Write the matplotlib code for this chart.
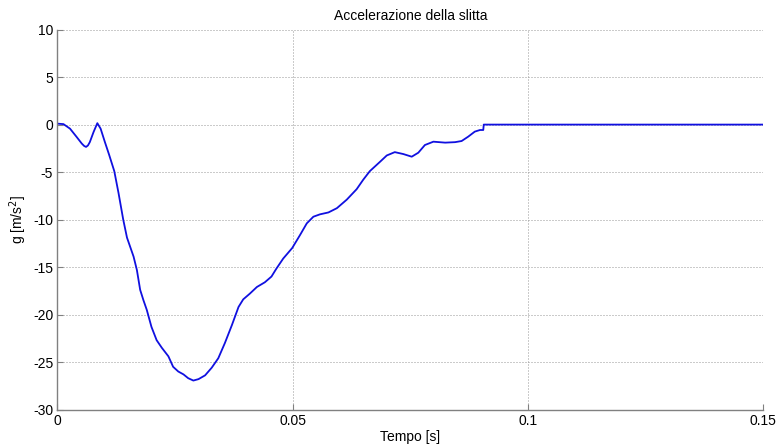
import numpy as np
import matplotlib.pyplot as plt

plt.rcParams['font.family'] = ['Liberation Sans', 'DejaVu Sans']
plt.rcParams['axes.unicode_minus'] = False

# accelerazione della slitta (tempo in s, accelerazione in m/s^2)
tempo = np.array([
    0.0000, 0.0013, 0.0027, 0.0041, 0.0052, 0.0057, 0.0061, 0.0065, 0.0069, 0.0077,
    0.0085, 0.0092, 0.0101, 0.0110, 0.0121, 0.0130, 0.0140, 0.0148, 0.0162, 0.0169,
    0.0176, 0.0183, 0.0190, 0.0200, 0.0211, 0.0222, 0.0236, 0.0246, 0.0257, 0.0268,
    0.0278, 0.0289, 0.0300, 0.0314, 0.0328, 0.0342, 0.0356, 0.0371, 0.0385, 0.0395,
    0.0409, 0.0424, 0.0441, 0.0455, 0.0465, 0.0480, 0.0499, 0.0516, 0.0530, 0.0544,
    0.0558, 0.0576, 0.0594, 0.0615, 0.0636, 0.0650, 0.0664, 0.0686, 0.0700, 0.0717,
    0.0735, 0.0753, 0.0767, 0.0781, 0.0799, 0.0824, 0.0845, 0.0859, 0.0873, 0.0887,
    0.0898, 0.0905, 0.0906, 0.1500])
acc = np.array([
    0.10, 0.05, -0.43, -1.30, -2.00, -2.25, -2.35, -2.20, -1.85, -0.78,
    0.15, -0.43, -1.83, -3.17, -4.90, -7.20, -10.0, -11.9, -13.9, -15.3,
    -17.4, -18.5, -19.5, -21.3, -22.7, -23.5, -24.4, -25.5, -26.0, -26.3,
    -26.7, -26.95, -26.8, -26.4, -25.6, -24.6, -23.0, -21.1, -19.2, -18.4,
    -17.8, -17.1, -16.6, -16.0, -15.2, -14.1, -13.0, -11.6, -10.4, -9.7,
    -9.45, -9.25, -8.8, -7.9, -6.8, -5.8, -4.9, -3.9, -3.25, -2.9,
    -3.1, -3.38, -2.96, -2.15, -1.8, -1.9, -1.85, -1.73, -1.27, -0.74,
    -0.57, -0.57, 0.0, 0.0])

xticks = [0, 0.05, 0.1, 0.15]
xticklabels = ['0', '0.05', '0.1', '0.15']
yticks = np.arange(-30, 11, 5)

fig = plt.figure(figsize=(7.8, 4.46), dpi=100)
ax = fig.add_axes([0.0735, 0.0818, 0.9051, 0.8518])

ax.plot(tempo, acc, color='#1010e0', lw=1.3)

ax.set_xlim(0, 0.15)
ax.set_ylim(-30, 10)
ax.set_xticks(xticks)
ax.set_xticklabels(xticklabels)
ax.set_yticks(yticks)

# griglia a puntini stile matlab
ax.grid(True, color='0.6', linestyle=(0, (1, 2)), linewidth=0.72)
for s in ['top', 'right']:
    ax.spines[s].set_visible(False)
for s in ['left', 'bottom']:
    ax.spines[s].set_color('0.5')
    ax.spines[s].set_linewidth(1.0)
ax.tick_params(direction='in', length=4, width=0.8, color='0.5',
               labelsize=10, pad=3)

ax.set_title('Accelerazione della slitta', fontsize=10, pad=7)
ax.set_xlabel('Tempo [s]', fontsize=10, labelpad=2)
ax.set_ylabel('g [m/s$^2$]', fontsize=10, labelpad=3)

fig.savefig('out.png', dpi=100)
